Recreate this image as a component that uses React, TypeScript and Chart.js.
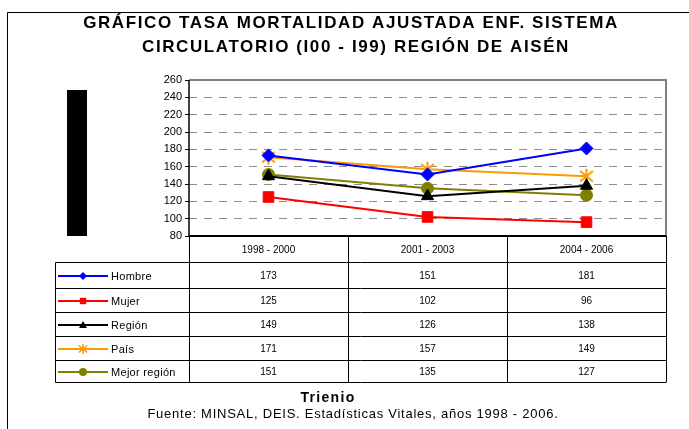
import React, { useEffect, useRef } from 'react';
import { Chart, registerables } from 'chart.js';

Chart.register(...registerables);

const FONT = "'Liberation Sans', Arial, sans-serif";

const TITLE_LINES = [
  'GRÁFICO TASA MORTALIDAD AJUSTADA ENF. SISTEMA',
  'CIRCULATORIO (I00 - I99) REGIÓN DE AISÉN',
];
const X_TITLE = 'Trienio';
const FOOTER = 'Fuente: MINSAL, DEIS. Estadísticas Vitales, años 1998 - 2006.';

const CATEGORIES = ['1998 - 2000', '2001 - 2003', '2004 - 2006'];

const HOMBRE = [173, 151, 181];
const MUJER = [125, 102, 96];
const REGION = [149, 126, 138];
const PAIS = [171, 157, 149];
const MEJOR_REGION = [151, 135, 127];

const SERIES_NAMES = ['Hombre', 'Mujer', 'Región', 'País', 'Mejor región'];
const SERIES_VALUES = [HOMBRE, MUJER, REGION, PAIS, MEJOR_REGION];
const SERIES_COLORS = ['#0000FF', '#FF0000', '#000000', '#FF9900', '#808000'];
const SERIES_MARKERS = ['rectRot', 'rect', 'triangle', 'star', 'circle'];
const SERIES_RADII = [6.5, 7.5, 7, 7.5, 6];

const Y_MIN = 80;
const Y_MAX = 260;
const Y_STEP = 20;

function drawMarker(ctx: CanvasRenderingContext2D, style: string, x: number, y: number, r: number, color: string, lw = 1.5) {
  ctx.save();
  ctx.fillStyle = color;
  ctx.strokeStyle = color;
  ctx.lineWidth = lw;
  ctx.beginPath();
  if (style === 'rectRot') {
    ctx.moveTo(x, y - r);
    ctx.lineTo(x + r, y);
    ctx.lineTo(x, y + r);
    ctx.lineTo(x - r, y);
    ctx.closePath();
    ctx.fill();
  } else if (style === 'rect') {
    ctx.rect(x - r * 0.8, y - r * 0.8, r * 1.6, r * 1.6);
    ctx.fill();
  } else if (style === 'triangle') {
    ctx.moveTo(x, y - r);
    ctx.lineTo(x + r, y + r * 0.75);
    ctx.lineTo(x - r, y + r * 0.75);
    ctx.closePath();
    ctx.fill();
  } else if (style === 'star') {
    ctx.moveTo(x, y - r); ctx.lineTo(x, y + r);
    ctx.moveTo(x - r * 0.85, y - r * 0.7); ctx.lineTo(x + r * 0.85, y + r * 0.7);
    ctx.moveTo(x - r * 0.85, y + r * 0.7); ctx.lineTo(x + r * 0.85, y - r * 0.7);
    ctx.stroke();
  } else {
    ctx.arc(x, y, r, 0, Math.PI * 2);
    ctx.fill();
  }
  ctx.restore();
}

function makeStarImage(color: string, r: number): HTMLCanvasElement {
  const size = Math.ceil(r * 2 + 4);
  const c = document.createElement('canvas');
  c.width = size;
  c.height = size;
  const cx = c.getContext('2d');
  if (cx) drawMarker(cx, 'star', size / 2, size / 2, r, color, 2);
  return c;
}

const decorPlugin = {
  id: 'decor',
  beforeDraw(chart: any) {
    const ctx: CanvasRenderingContext2D = chart.ctx;
    ctx.save();
    ctx.fillStyle = '#FFFFFF';
    ctx.fillRect(0, 0, chart.width, chart.height);
    // outer frame
    ctx.strokeStyle = '#000';
    ctx.lineWidth = 1;
    ctx.beginPath();
    ctx.moveTo(7.5, chart.height);
    ctx.lineTo(7.5, 12.5);
    ctx.lineTo(chart.width, 12.5);
    ctx.stroke();
    // black block (axis title artefact)
    ctx.fillStyle = '#000';
    ctx.fillRect(67, 90, 20, 146);
    // title
    ctx.fillStyle = '#000';
    ctx.font = `bold 17px ${FONT}`;
    (ctx as any).letterSpacing = '1.6px';
    ctx.textAlign = 'center';
    ctx.textBaseline = 'middle';
    ctx.fillText(TITLE_LINES[0], 351, 23);
    ctx.fillText(TITLE_LINES[1], 356, 47);
    ctx.restore();
  },
  afterDraw(chart: any) {
    const ctx: CanvasRenderingContext2D = chart.ctx;
    const { left, right, top, bottom } = chart.chartArea;
    ctx.save();
    // plot borders
    ctx.lineWidth = 2;
    ctx.strokeStyle = '#808080';
    ctx.beginPath();
    ctx.moveTo(left, top);
    ctx.lineTo(right, top);
    ctx.lineTo(right, bottom);
    ctx.stroke();
    ctx.strokeStyle = '#000';
    ctx.lineWidth = 1.5;
    ctx.beginPath();
    ctx.moveTo(left, top);
    ctx.lineTo(left, bottom);
    ctx.stroke();

    // table
    const colW = (right - left) / CATEGORIES.length;
    const rows = [bottom, bottom + 26, bottom + 52, bottom + 76, bottom + 100, bottom + 124, bottom + 146];
    const tableLeft = 55.5;
    ctx.strokeStyle = '#000';
    ctx.lineWidth = 1;
    ctx.beginPath();
    for (let i = 1; i < rows.length; i++) {
      const yy = Math.round(rows[i]) + 0.5;
      ctx.moveTo(tableLeft, yy);
      ctx.lineTo(right, yy);
    }
    ctx.moveTo(tableLeft, rows[1] + 0.5);
    ctx.lineTo(tableLeft, rows[rows.length - 1] + 0.5);
    for (let k = 0; k <= CATEGORIES.length; k++) {
      const xx = Math.round(left + k * colW) + 0.5;
      ctx.moveTo(xx, rows[0]);
      ctx.lineTo(xx, rows[rows.length - 1] + 0.5);
    }
    ctx.stroke();
    ctx.lineWidth = 2;
    ctx.beginPath();
    ctx.moveTo(left, bottom);
    ctx.lineTo(right, bottom);
    ctx.stroke();

    ctx.fillStyle = '#000';
    ctx.font = `10px ${FONT}`;
    ctx.textAlign = 'center';
    ctx.textBaseline = 'middle';
    CATEGORIES.forEach((c, k) => {
      ctx.fillText(c, left + (k + 0.5) * colW, (rows[0] + rows[1]) / 2 + 1);
    });
    SERIES_NAMES.forEach((name, i) => {
      const cy = (rows[i + 1] + rows[i + 2]) / 2 + 1;
      ctx.font = `10px ${FONT}`;
      SERIES_VALUES[i].forEach((v, k) => {
        ctx.textAlign = 'center';
        ctx.fillText(String(v), left + (k + 0.5) * colW, cy);
      });
      // legend key
      ctx.save();
      ctx.strokeStyle = SERIES_COLORS[i];
      ctx.lineWidth = 2;
      ctx.beginPath();
      ctx.moveTo(58, cy);
      ctx.lineTo(108, cy);
      ctx.stroke();
      ctx.restore();
      drawMarker(ctx, SERIES_MARKERS[i], 83, cy, SERIES_MARKERS[i] === 'star' ? 5 : 4, SERIES_COLORS[i]);
      ctx.textAlign = 'left';
      ctx.fillStyle = '#000';
      ctx.font = `11px ${FONT}`;
      (ctx as any).letterSpacing = '0.3px';
      ctx.fillText(name, 111, cy + 1);
      (ctx as any).letterSpacing = '0px';
    });

    // x title and footer
    ctx.textAlign = 'center';
    ctx.font = `bold 14px ${FONT}`;
    (ctx as any).letterSpacing = '1.3px';
    ctx.fillText(X_TITLE, 328, 398);
    ctx.font = `13px ${FONT}`;
    (ctx as any).letterSpacing = '0.75px';
    ctx.fillText(FOOTER, 353, 414);
    ctx.restore();
  },
};

export default function App() {
  const canvasRef = useRef<HTMLCanvasElement | null>(null);

  useEffect(() => {
    const canvas = canvasRef.current;
    if (!canvas) return;
    const chart = new Chart(canvas, {
      type: 'line',
      data: {
        labels: CATEGORIES,
        datasets: SERIES_NAMES.map((name, i) => ({
          label: name,
          data: SERIES_VALUES[i],
          borderColor: SERIES_COLORS[i],
          backgroundColor: SERIES_COLORS[i],
          pointBackgroundColor: SERIES_COLORS[i],
          pointBorderColor: SERIES_COLORS[i],
          pointStyle: (SERIES_MARKERS[i] === 'star'
            ? makeStarImage(SERIES_COLORS[i], SERIES_RADII[i])
            : SERIES_MARKERS[i]) as any,
          pointRadius: SERIES_RADII[i],
          pointBorderWidth: 1,
          borderWidth: 2,
          tension: 0,
          fill: false,
        })),
      },
      options: {
        responsive: false,
        animation: false,
        devicePixelRatio: 1,
        layout: { padding: { left: 150, top: 80, right: 23, bottom: 193 } },
        plugins: {
          legend: { display: false },
          tooltip: { enabled: false },
          title: { display: false },
        },
        scales: {
          x: {
            type: 'category',
            offset: true,
            display: false,
          },
          y: {
            min: Y_MIN,
            max: Y_MAX,
            ticks: {
              stepSize: Y_STEP,
              color: '#000',
              font: { family: FONT, size: 11 },
              padding: 3,
            },
            border: { display: false, dash: [8, 7] },
            grid: {
              color: (c: any) => (c.tick && (c.tick.value === Y_MIN || c.tick.value === Y_MAX) ? 'rgba(0,0,0,0)' : '#8C8C8C'),
              tickColor: '#000',
              tickLength: 4,
              tickBorderDash: [],
              lineWidth: 1,
            } as any,
            afterFit: (scale: any) => {
              scale.width = 39;
            },
          },
        },
      },
      plugins: [decorPlugin],
    });
    return () => chart.destroy();
  }, []);

  return (
    <div style={{ position: 'fixed', left: 0, top: 0, width: 689, height: 429, background: '#fff' }}>
      <canvas ref={canvasRef} width={689} height={429} style={{ display: 'block', width: 689, height: 429 }} />
    </div>
  );
}
